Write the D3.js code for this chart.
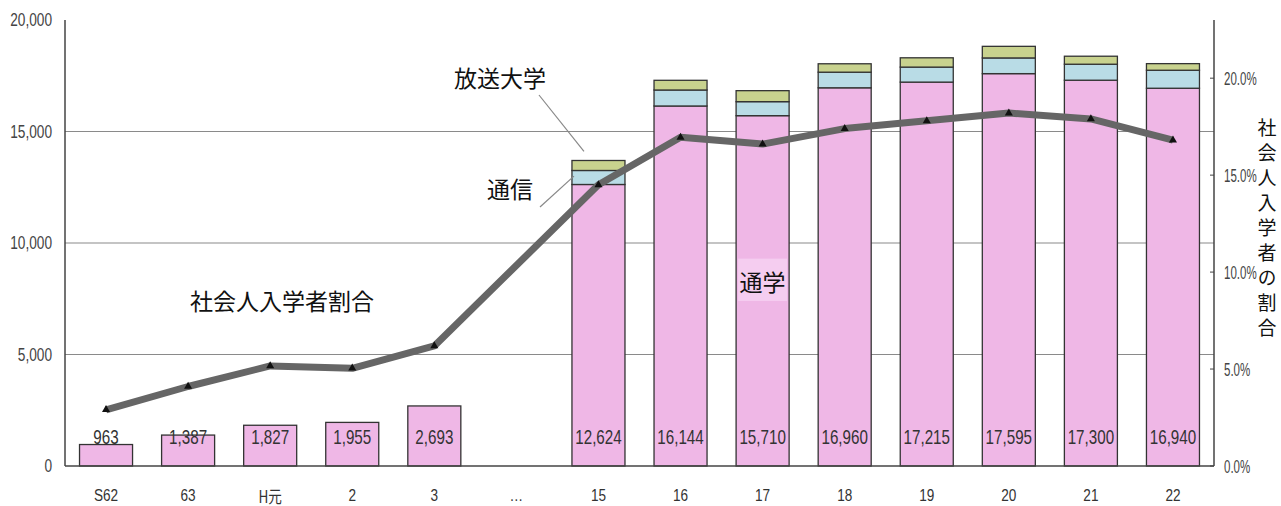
<!DOCTYPE html>
<html>
<head>
  <meta charset="utf-8">
  <script src="https://d3js.org/d3.v7.min.js"></script>
  <style>
    body { margin: 0; background: #fff; }
    svg text { font-family: "Liberation Sans", Arial, sans-serif; }
    .jp { font-family: "Noto Sans CJK JP", sans-serif; fill: #111; }
  </style>
</head>
<body>
<div id="chart"></div>
<script>

// data
var categories = ["S62", "63", "H元", "2", "3", "…", "15", "16", "17", "18", "19", "20", "21", "22"];
var tsugaku  = [963, 1387, 1827, 1955, 2693, null, 12624, 16144, 15710, 16960, 17215, 17595, 17300, 16940];
var tsushin  = [0, 0, 0, 0, 0, null, 628, 717, 628, 700, 673, 704, 717, 807];
var hoso     = [0, 0, 0, 0, 0, null, 448, 435, 493, 377, 417, 520, 359, 296];
var ratio    = [2.9, 4.1, 5.16, 5.04, 6.19, null, 14.5, 16.95, 16.6, 17.4, 17.8, 18.2, 17.9, 16.8];
var leftTicks  = [0, 5000, 10000, 15000, 20000];
var rightTicks = [0, 5, 10, 15, 20];

var W = 1281, H = 506;
var margin = { top: 20, right: 67, bottom: 40, left: 65 };
var width = W - margin.left - margin.right,
    height = H - margin.top - margin.bottom;

var svg = d3.select("#chart").append("svg")
  .attr("width", W).attr("height", H);
var g = svg.append("g")
  .attr("transform", "translate(" + margin.left + "," + margin.top + ")");

var x = d3.scaleBand().domain(categories).range([0, width]).paddingInner(0.354).paddingOuter(0.177);
var y = d3.scaleLinear().domain([0, 20000]).range([height, 0]);
var y2 = d3.scaleLinear().domain([0, 23]).range([height, 0]);

// the numbers in the original are set in a tall narrow face
function narrow(px, py, sx) {
  return "translate(" + px + "," + py + ") scale(" + sx + ",1)";
}

// grid lines
g.append("g").selectAll("line")
  .data(leftTicks.filter(function (d) { return d > 0 && d < 20000; }))
  .join("line")
  .attr("x1", 0).attr("x2", width)
  .attr("y1", function (d) { return y(d); }).attr("y2", function (d) { return y(d); })
  .attr("stroke", "#8a8a8a").attr("stroke-width", 1.2);

// stacked bars
var rows = categories.map(function (c, i) {
  return { cat: c, tsugaku: tsugaku[i] || 0, tsushin: tsushin[i] || 0, hoso: hoso[i] || 0 };
});
var keys = ["tsugaku", "tsushin", "hoso"];
var colors = { tsugaku: "#efb7e6", tsushin: "#b9dce6", hoso: "#c8d28e" };
var stacked = d3.stack().keys(keys)(rows);

g.append("g").selectAll("g")
  .data(stacked)
  .join("g")
  .attr("fill", function (d) { return colors[d.key]; })
  .selectAll("rect")
  .data(function (d) { return d.filter(function (s) { return s[1] - s[0] > 0; }); })
  .join("rect")
  .attr("x", function (d) { return x(d.data.cat); })
  .attr("width", x.bandwidth())
  .attr("y", function (d) { return y(d[1]); })
  .attr("height", function (d) { return y(d[0]) - y(d[1]); })
  .attr("stroke", "#333").attr("stroke-width", 1.3);

// "通学" label box on bar 17
var bx = x("17");
g.append("rect")
  .attr("x", bx + 2).attr("width", x.bandwidth() - 4)
  .attr("y", y(9300)).attr("height", y(7400) - y(9300))
  .attr("fill", "#f5cdf0");
g.append("text").attr("class", "jp")
  .attr("x", bx + x.bandwidth() / 2).attr("y", y(8300))
  .attr("text-anchor", "middle").attr("dominant-baseline", "central")
  .style("font-size", "23px").text("通学");

// value labels inside bars
g.append("g").selectAll("text")
  .data(rows.filter(function (d) { return d.tsugaku > 0; }))
  .join("text")
  .attr("transform", function (d) { return narrow(x(d.cat) + x.bandwidth() / 2, y(0) - 29, 0.76); })
  .attr("text-anchor", "middle").attr("dominant-baseline", "central")
  .attr("fill", "#333")
  .style("font-size", "20px")
  .text(function (d) { return d3.format(",")(d.tsugaku); });

// ratio line
var pts = categories.map(function (c, i) { return { cat: c, v: ratio[i] }; })
  .filter(function (d) { return d.v != null; });
var line = d3.line()
  .x(function (d) { return x(d.cat) + x.bandwidth() / 2; })
  .y(function (d) { return y2(d.v); });
g.append("path").datum(pts)
  .attr("d", line)
  .attr("fill", "none").attr("stroke", "#666").attr("stroke-width", 7)
  .attr("stroke-linejoin", "round");
g.append("g").selectAll("path")
  .data(pts)
  .join("path")
  .attr("transform", function (d) { return "translate(" + (x(d.cat) + x.bandwidth() / 2) + "," + y2(d.v) + ")"; })
  .attr("d", d3.symbol().type(d3.symbolTriangle).size(28))
  .attr("fill", "#111");

// axes
var axisColor = "#444";
g.append("line").attr("x1", 0).attr("x2", 0).attr("y1", 0).attr("y2", height)
  .attr("stroke", axisColor).attr("stroke-width", 1.5);
g.append("line").attr("x1", width).attr("x2", width).attr("y1", 0).attr("y2", height)
  .attr("stroke", axisColor).attr("stroke-width", 1.5);
g.append("line").attr("x1", 0).attr("x2", width).attr("y1", height).attr("y2", height)
  .attr("stroke", axisColor).attr("stroke-width", 1.5);

// left tick labels
g.append("g").selectAll("text")
  .data(leftTicks)
  .join("text")
  .attr("transform", function (d) { return narrow(-13, y(d), 0.76); })
  .attr("text-anchor", "end").attr("dominant-baseline", "central")
  .attr("fill", "#444").style("font-size", "18px")
  .text(function (d) { return d3.format(",")(d); });

// right ticks and labels
g.append("g").selectAll("line")
  .data(rightTicks)
  .join("line")
  .attr("x1", width - 4).attr("x2", width)
  .attr("y1", function (d) { return y2(d); }).attr("y2", function (d) { return y2(d); })
  .attr("stroke", axisColor);
g.append("g").selectAll("text")
  .data(rightTicks)
  .join("text")
  .attr("transform", function (d) { return narrow(width + 10, y2(d), 0.64); })
  .attr("text-anchor", "start").attr("dominant-baseline", "central")
  .attr("fill", "#444").style("font-size", "18px")
  .text(function (d) { return d.toFixed(1) + "%"; });

// category labels
g.append("g").selectAll("text")
  .data(categories)
  .join("text")
  .attr("transform", function (d) { return narrow(x(d) + x.bandwidth() / 2, height + 29, 0.8); })
  .attr("text-anchor", "middle").attr("dominant-baseline", "central")
  .attr("fill", "#333").style("font-size", "17px")
  .style("font-family", function (d) { return d === "H元" ? "'Noto Sans CJK JP', sans-serif" : null; })
  .text(function (d) { return d; });

// right axis title, set vertically
svg.append("text").attr("class", "jp")
  .attr("x", 1267).attr("y", 118)
  .style("writing-mode", "vertical-rl")
  .style("text-orientation", "upright")
  .style("letter-spacing", "6px")
  .style("font-size", "19px")
  .text("社会人入学者の割合");

// annotations
g.append("text").attr("class", "jp")
  .attr("x", 282 - margin.left).attr("y", 300 - margin.top)
  .attr("text-anchor", "middle").attr("dominant-baseline", "central")
  .style("font-size", "23px").text("社会人入学者割合");

var x15 = x("15");
g.append("text").attr("class", "jp")
  .attr("x", 500 - margin.left).attr("y", 77 - margin.top)
  .attr("text-anchor", "middle").attr("dominant-baseline", "central")
  .style("font-size", "23px").text("放送大学");
g.append("line")
  .attr("x1", 539 - margin.left).attr("y1", 95 - margin.top)
  .attr("x2", x15 + 12).attr("y2", y(13753) - 8)
  .attr("stroke", "#888").attr("stroke-width", 1.2);

g.append("text").attr("class", "jp")
  .attr("x", 510 - margin.left).attr("y", 188 - margin.top)
  .attr("text-anchor", "middle").attr("dominant-baseline", "central")
  .style("font-size", "23px").text("通信");
g.append("line")
  .attr("x1", 540 - margin.left).attr("y1", 207 - margin.top)
  .attr("x2", x15 + 2).attr("y2", y(13000))
  .attr("stroke", "#888").attr("stroke-width", 1.2);

</script>
</body>
</html>
